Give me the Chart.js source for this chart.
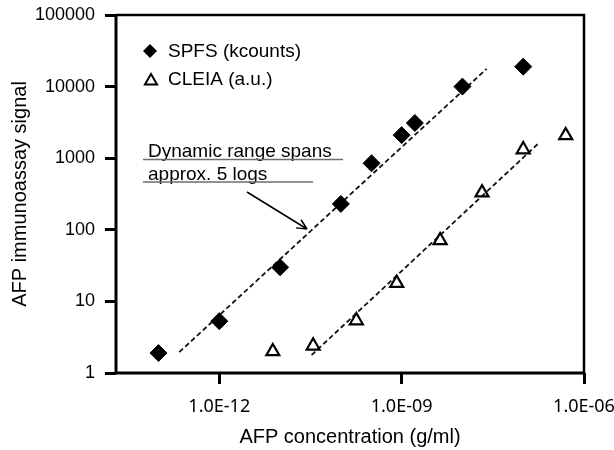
<!DOCTYPE html>
<html>
<head>
<meta charset="utf-8">
<title>AFP immunoassay signal</title>
<script src="https://cdn.jsdelivr.net/npm/chart.js"></script>
<style>
    body {
        margin: 0;
        background-color: #ffffff;
    }
    #wrap {
        width: 614px;
        height: 450px;
    }
</style>
</head>
<body>
<div id="wrap"><canvas id="afpChart" width="614" height="450"></canvas></div>
<script>
// values
var spfsConc = [1e-13, 1e-12, 1e-11, 1e-10, 3.2e-10, 1e-9, 1.65e-9, 1e-8, 1e-7];
var spfsSignal = [1.9, 5.3, 30, 230, 850, 2100, 3100, 10000, 19000];
var cleiaConc = [7.6e-12, 3.5e-11, 1.8e-10, 8.3e-10, 4.3e-9, 2.1e-8, 1e-7, 5e-7];
var cleiaSignal = [2.0, 2.4, 5.4, 18, 71, 330, 1320, 2080];

// dashed fit lines (end points)
var spfsFitConc = [2.2e-13, 2.5e-8];
var spfsFitSignal = [1.96, 17700];
var cleiaFitConc = [3.3e-11, 1.74e-7];
var cleiaFitSignal = [1.78, 1580];

var xTickValues = [1e-12, 1e-9, 1e-6];
var xTickLabels = ['1.0E-12', '1.0E-09', '1.0E-06'];
var yTickValues = [1, 10, 100, 1000, 10000, 100000];
var yTickLabels = ['1', '10', '100', '1000', '10000', '100000'];

var sans = '"Liberation Sans", Arial, sans-serif';

function pts(xs, ys) {
    return xs.map(function (x, i) { return { x: x, y: ys[i] }; });
}

// box round the plot area
var framePlugin = {
    id: 'frame',
    afterDraw: function (chart) {
        var c = chart.ctx, a = chart.chartArea;
        c.save();
        c.strokeStyle = '#000';
        c.lineWidth = 2.5;
        c.beginPath();
        c.moveTo(a.left, a.top);
        c.lineTo(a.right, a.top);
        c.lineTo(a.right, a.bottom);
        c.stroke();
        c.lineWidth = 3;
        c.beginPath();
        c.moveTo(a.left, a.top - 1);
        c.lineTo(a.left, a.bottom);
        c.lineTo(a.right + 1, a.bottom);
        c.stroke();
        c.restore();
    }
};

// legend inside the plot and the "dynamic range" note
var notesPlugin = {
    id: 'notes',
    afterDraw: function (chart) {
        var c = chart.ctx, a = chart.chartArea;
        var L = a.left, T = a.top;
        c.save();
        c.fillStyle = '#000';
        c.strokeStyle = '#000';

        // diamond
        var dx = L + 34, dy = T + 36, r = 7;
        c.beginPath();
        c.moveTo(dx, dy - r); c.lineTo(dx + r, dy); c.lineTo(dx, dy + r); c.lineTo(dx - r, dy);
        c.closePath();
        c.fill();
        // open triangle
        var tx = L + 35, ty = T + 66, tr = 7;
        c.lineWidth = 2;
        c.beginPath();
        c.moveTo(tx, ty - tr);
        c.lineTo(tx + tr * 0.866, ty + tr * 0.5);
        c.lineTo(tx - tr * 0.866, ty + tr * 0.5);
        c.closePath();
        c.stroke();

        c.font = '19px ' + sans;
        c.textBaseline = 'middle';
        c.textAlign = 'left';
        c.fillText('SPFS (kcounts)', L + 52, dy + 1);
        c.fillText('CLEIA (a.u.)', L + 52, ty - 1);

        // note text with rules
        c.textBaseline = 'alphabetic';
        c.fillText('Dynamic range spans', L + 32, T + 142);
        c.fillText('approx. 5 logs', L + 32, T + 165);
        c.strokeStyle = '#6e6e6e';
        c.lineWidth = 1.5;
        c.beginPath();
        c.moveTo(L + 27, T + 144.5); c.lineTo(L + 227, T + 144.5);
        c.moveTo(L + 27, T + 167); c.lineTo(L + 197, T + 167);
        c.stroke();

        // arrow to the SPFS fit line
        var x0 = L + 131, y0 = T + 177, x1 = L + 191, y1 = T + 214;
        c.strokeStyle = '#000';
        c.lineWidth = 1.5;
        c.beginPath();
        c.moveTo(x0, y0); c.lineTo(x1, y1);
        var ang = Math.atan2(y1 - y0, x1 - x0), h = 11;
        c.moveTo(x1, y1); c.lineTo(x1 - h * Math.cos(ang - 0.45), y1 - h * Math.sin(ang - 0.45));
        c.moveTo(x1, y1); c.lineTo(x1 - h * Math.cos(ang + 0.45), y1 - h * Math.sin(ang + 0.45));
        c.stroke();
        c.restore();
    }
};

new Chart(document.getElementById('afpChart').getContext('2d'), {
    type: 'scatter',
    data: {
        datasets: [{
            label: 'SPFS (kcounts)',
            data: pts(spfsConc, spfsSignal),
            pointStyle: 'rectRot',
            pointRadius: 8.5,
            backgroundColor: '#000',
            borderColor: '#000',
            borderWidth: 1
        }, {
            label: 'CLEIA (a.u.)',
            data: pts(cleiaConc, cleiaSignal),
            pointStyle: 'triangle',
            pointRadius: 7.5,
            backgroundColor: 'rgba(0,0,0,0)',
            borderColor: '#000',
            borderWidth: 2.2
        }, {
            label: 'SPFS fit',
            data: pts(spfsFitConc, spfsFitSignal),
            showLine: true,
            pointRadius: 0,
            borderColor: '#111',
            borderWidth: 1.8,
            borderDash: [5, 3]
        }, {
            label: 'CLEIA fit',
            data: pts(cleiaFitConc, cleiaFitSignal),
            showLine: true,
            pointRadius: 0,
            borderColor: '#111',
            borderWidth: 1.8,
            borderDash: [5, 3]
        }]
    },
    options: {
        responsive: false,
        animation: false,
        devicePixelRatio: 1,
        layout: { padding: { top: 15, right: 30, left: 0, bottom: 0 } },
        plugins: {
            legend: { display: false },
            tooltip: { enabled: false }
        },
        scales: {
            x: {
                type: 'logarithmic',
                min: 2e-14,
                max: 1e-6,
                afterBuildTicks: function (s) {
                    s.ticks = xTickValues.map(function (v) { return { value: v }; });
                },
                afterFit: function (s) {
                    s.height = 77;
                    s.paddingLeft = 0;
                    s.paddingRight = 0;
                },
                ticks: {
                    callback: function (v, i) { return xTickLabels[i]; },
                    autoSkip: false,
                    maxRotation: 0,
                    padding: 12,
                    color: '#000',
                    font: { family: '"Noto Sans", sans-serif', size: 18 }
                },
                grid: {
                    drawOnChartArea: false,
                    drawTicks: true,
                    tickLength: 11,
                    tickWidth: 3,
                    tickColor: '#000'
                },
                border: { display: false },
                title: {
                    display: true,
                    text: 'AFP concentration (g/ml)',
                    color: '#000',
                    font: { family: sans, size: 20 },
                    padding: { top: 0, bottom: 1 }
                }
            },
            y: {
                type: 'logarithmic',
                min: 1,
                max: 100000,
                afterBuildTicks: function (s) {
                    s.ticks = yTickValues.map(function (v) { return { value: v }; });
                },
                afterFit: function (s) {
                    s.width = 116;
                    s.paddingTop = 0;
                    s.paddingBottom = 0;
                },
                ticks: {
                    callback: function (v, i) { return yTickLabels[i]; },
                    autoSkip: false,
                    padding: 10,
                    color: '#000',
                    font: { family: sans, size: 18 }
                },
                grid: {
                    drawOnChartArea: false,
                    drawTicks: true,
                    tickLength: 11,
                    tickWidth: 3,
                    tickColor: '#000'
                },
                border: { display: false },
                title: {
                    display: true,
                    text: 'AFP immunoassay signal',
                    color: '#000',
                    font: { family: sans, size: 20 },
                    padding: { top: 8, bottom: 0 }
                }
            }
        }
    },
    plugins: [framePlugin, notesPlugin]
});
</script>
</body>
</html>
